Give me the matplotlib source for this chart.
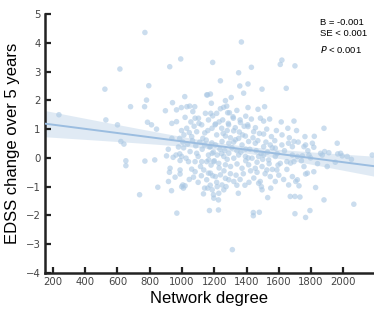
import numpy as np
import matplotlib
matplotlib.use("Agg")
import matplotlib.pyplot as plt

# network degree (x) and EDSS change over 5 years (y)
degree = [
    # sparse left part
    237, 522, 615, 528, 600, 621, 640, 770, 681, 794, 780, 768, 786, 811, 842, 897,
    652, 652, 770, 831, 850, 737,
    # 900 - 1000
    941, 924, 992, 966, 996, 937, 966, 997, 937, 986, 904, 945, 986, 963, 998, 988,
    926, 922, 988, 988, 957, 916, 935, 998, 968, 915, 978, 1005,
    # 1000 - 1200
    1017, 1030, 1048, 1079, 1067, 1158, 1176, 1153, 1019, 1102, 1122, 1164, 1029, 1091,
    1141, 1060, 1129, 1190, 1182, 1178, 1190, 1186, 1081, 1040, 1025, 1091, 1081, 1122,
    1164, 1153, 1060, 1081, 1071, 1164, 1153, 1159, 1005, 1019, 1009, 1133, 1170, 1195,
    1010, 1035, 1050, 1065, 1085, 1100, 1110, 1125, 1140, 1150, 1170, 1185, 1195, 1045,
    1075, 1105, 1160, 1115, 1135, 1180, 1100, 1120, 1190, 1175, 1140, 1045, 1200, 1012,
    1055, 1145,
    # 1200 - 1400
    1238, 1269, 1258, 1238, 1283, 1316, 1252, 1362, 1289, 1207, 1246, 1320, 1269, 1351,
    1368, 1351, 1358, 1382, 1393, 1277, 1294, 1318, 1360, 1287, 1205, 1226, 1226, 1312,
    1349, 1176, 1207, 1248, 1290, 1331, 1372, 1187, 1218, 1259, 1290, 1321, 1351, 1393,
    1166, 1197, 1228, 1269, 1301, 1341, 1372, 1176, 1207, 1238, 1269, 1290, 1321, 1248,
    1218, 1187, 1228, 1259, 1273, 1197, 1215, 1235, 1255, 1265, 1280, 1300, 1310, 1330,
    1340, 1355, 1375, 1385, 1395, 1300, 1335, 1360, 1380, 1260, 1230, 1215, 1280, 1245,
    1365, 1320, 1395, 1340, 1390, 1215, 1340, 1305, 1395, 1230,
    # 1400 - 1600
    1409, 1430, 1496, 1409, 1471, 1512, 1486, 1543, 1506, 1409, 1444, 1506, 1554, 1407,
    1442, 1479, 1442, 1531, 1492, 1413, 1454, 1506, 1547, 1578, 1434, 1475, 1506, 1537,
    1578, 1413, 1454, 1496, 1526, 1588, 1475, 1485, 1496, 1547, 1578, 1420, 1440, 1460,
    1470, 1490, 1520, 1530, 1560, 1575, 1590, 1425, 1445, 1465, 1515, 1540, 1560, 1595,
    1415, 1455, 1525, 1585, 1430, 1465, 1550, 1600, 1480, 1410, 1500,
    # 1600 - 1800
    1619, 1609, 1700, 1646, 1656, 1694, 1762, 1710, 1700, 1766, 1793, 1700, 1731, 1661,
    1671, 1684, 1694, 1756, 1766, 1619, 1660, 1609, 1650, 1684, 1715, 1746, 1787, 1797,
    1673, 1694, 1756, 1777, 1766, 1684, 1715, 1705, 1725, 1620, 1635, 1650, 1665, 1630,
    1615, 1720, 1740, 1780,
    # 1800 +
    1808, 1817, 1962, 1859, 1869, 1910, 1983, 1993, 2024, 2179, 1817, 1828, 1880, 2065,
    1880, 1884, 1965, 1840, 1900, 1950, 2050, 1820,
]

edss_change = [
    1.50, 2.39, 3.09, 1.32, 1.15, 0.57, 0.48, 4.36, 1.78, 2.51, 2.01, 1.78, 1.24, 1.15, 1.00, 1.64,
    -0.10, -0.27, -0.11, -0.07, -1.02, -1.28,
    1.92, 3.17, 3.44, 1.67, 1.75, 1.20, 1.26, 0.95, 0.68, 0.68, 0.07, 0.02, 0.14, 0.10, 0.05, -0.09,
    -0.36, -0.50, -0.42, -0.56, -0.67, -0.82, -1.14, -1.00, -1.92, 0.30, 0.38, 0.55,
    2.13, 1.78, 1.80, 1.78, 1.61, 2.19, 2.22, 2.19, 1.41, 1.38, 1.15, 1.32, 1.03, 0.91,
    0.87, 0.74, 0.68, 3.32, 1.90, 1.55, 1.46, 1.03, 1.38, -0.13, -0.01, 0.16, -0.13, -0.13,
    0.10, -0.13, -0.39, -0.48, -0.67, -0.53, -0.76, -1.05, -0.94, -0.97, -1.05, -1.25, -1.83, -1.28,
    0.35, 0.48, 0.22, 0.60, 0.42, 0.05, 0.55, 0.30, 0.45, 0.62, 0.38, 0.52, 0.20, 0.88,
    1.10, 1.20, 0.95, -0.30, -0.42, -0.25, -0.85, -0.62, -0.62, -0.95, -1.05, -0.75, -0.10, 0.80,
    1.25, 1.55,
    2.68, 1.99, 1.76, 1.71, 1.57, 1.43, 1.32, 1.23, 1.15, 1.18, 1.03, 0.94, 0.76, 0.68,
    4.03, 2.96, 2.50, 2.25, 0.76, 1.80, 1.57, 1.38, 1.32, 1.20, 1.15, -1.81, -1.46, -3.19,
    -1.23, 0.39, 0.45, 0.57, 0.51, 0.63, 0.45, 0.16, 0.10, 0.05, 0.16, -0.01, 0.10, 0.05,
    -0.07, -0.13, -0.19, -0.24, -0.30, -0.21, -0.36, -0.53, -0.65, -0.59, -0.71, -0.76, -0.82, -0.94,
    -1.00, -1.11, -1.23, -1.11, -1.00, -1.40, 0.80, 0.30, 0.85, 0.25, 0.95, 0.70, 0.35, 1.05,
    0.25, 0.90, 0.80, 1.10, 0.30, -0.55, -0.60, -0.75, -0.55, -0.45, -0.35, -0.85, -0.05, 0.15,
    0.20, 0.55, -0.10, -0.95, -0.95, 1.55, 1.65, 2.10, 1.45, 1.25,
    2.57, 3.15, 2.39, 1.75, 1.69, 1.78, 1.38, 1.35, 1.28, 1.09, 0.91, 0.83, 0.74, 1.15,
    -1.90, -1.89, -2.01, -1.38, -1.00, 0.57, 0.51, 0.39, 0.45, 0.34, -0.01, 0.05, 0.10, -0.07,
    0.05, -0.24, -0.36, -0.30, -0.42, -0.42, -0.88, -0.82, -1.11, -0.65, -0.82, 0.30, 0.70, 0.25,
    0.60, 0.15, 0.55, 0.20, 0.35, 0.60, 0.15, -0.45, -0.70, -0.15, -0.55, -0.20, -0.40, -0.25,
    -0.85, 1.05, 1.00, 0.95, 1.35, -0.50, -1.05, -0.60, 0.85, 0.00, -0.05,
    3.40, 3.25, 3.20, 2.42, 1.03, 1.28, 0.74, 0.95, -1.94, -2.07, -1.83, -1.34, -1.36, -0.94,
    -1.34, 0.39, 0.57, 0.39, 0.45, 0.45, 0.51, -0.19, -0.13, 0.10, 0.05, 0.07, 0.10, 0.00,
    -0.18, -0.13, -0.30, -0.53, -0.56, -0.65, -0.76, -0.82, -0.97, 0.80, 0.25, -0.40, 0.70, -0.75,
    1.25, 0.55, -0.10, 0.25,
    0.51, 0.37, 0.51, 0.16, 0.10, 0.18, 0.16, 0.07, 0.05, 0.10, -0.48, -1.03, -1.46, -1.61,
    1.03, 0.22, 0.14, -0.20, -0.30, -0.15, -0.05, 0.75,
]

x = np.array(degree, dtype=float)
y = np.array(edss_change, dtype=float)

# linear fit with 95% confidence band
n = len(x)
slope, intercept = np.polyfit(x, y, 1)
resid = y - (slope * x + intercept)
s = np.sqrt(np.sum(resid ** 2) / (n - 2))
xm = x.mean()
sxx = np.sum((x - xm) ** 2)
xfit = np.linspace(150, 2190, 200)
yfit = slope * xfit + intercept
se = s * np.sqrt(1.0 / n + (xfit - xm) ** 2 / sxx)
ci = 1.97 * se

fig = plt.figure(figsize=(3.74, 3.20), dpi=100)
ax = fig.add_axes([0.12, 0.147, 0.88, 0.809])

ax.fill_between(xfit, yfit - ci, yfit + ci, color="#d6e4f1", alpha=0.75, lw=0, zorder=1)
ax.scatter(x, y, s=16, color="#a9c7e3", alpha=0.6, edgecolors="none", zorder=2)
ax.plot(xfit, yfit, color="#9bbde0", lw=1.4, zorder=3)

ax.set_xlim(150, 2190)
ax.set_ylim(-4, 5)
ax.set_xticks(range(200, 2001, 200))
ax.set_yticks(range(-4, 6))

for side in ["top", "right"]:
    ax.spines[side].set_visible(False)
for side in ["left", "bottom"]:
    ax.spines[side].set_linewidth(1.8)
    ax.spines[side].set_color("#222222")

ax.tick_params(direction="in", length=4, width=1.6, color="#222222",
               labelsize=7.3, labelcolor="#444444", pad=3)

ax.set_xlabel("Network degree", fontsize=12, family="Liberation Sans", labelpad=3)
ax.set_ylabel("EDSS change over 5 years", fontsize=12, family="Liberation Sans", labelpad=4)

ax.text(0.835, 0.985, "B = -0.001\nSE < 0.001", transform=ax.transAxes,
        fontsize=6.8, family="Liberation Sans", va="top", ha="left", linespacing=1.35)
ax.text(0.835, 0.985 - 0.101, "$\\it{P}$ < 0.001", transform=ax.transAxes,
        fontsize=6.8, family="Liberation Sans", va="top", ha="left")

fig.savefig("out.png", dpi=100)
